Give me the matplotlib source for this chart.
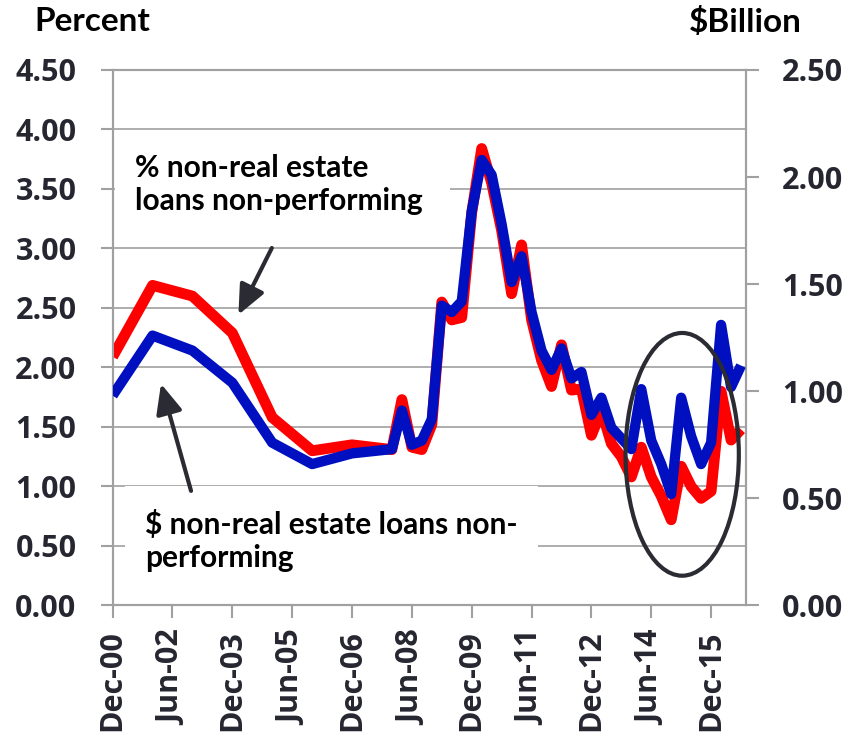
import matplotlib
matplotlib.use("Agg")
import matplotlib.pyplot as plt
from matplotlib.patches import Ellipse, Rectangle

# ---------------- data ----------------
# x positions as quarter index from Dec-2000 (annual points early, quarterly from Dec-07)
quarters = [0, 4, 8, 12, 16, 20, 24, 28, 29, 30, 31, 32, 33, 34, 35, 36, 37, 38, 39, 40,
            41, 42, 43, 44, 45, 46, 47, 48, 49, 50, 51, 52, 53, 54, 55, 56, 57, 58, 59, 60,
            61, 62, 63]
pct_nonperforming = [2.09, 2.69, 2.60, 2.29, 1.58, 1.30, 1.35, 1.31, 1.73, 1.33, 1.31, 1.52,
                     2.55, 2.40, 2.42, 3.30, 3.84, 3.55, 3.15, 2.62, 3.03, 2.40, 2.06, 1.84,
                     2.19, 1.81, 1.82, 1.43, 1.64, 1.36, 1.25, 1.08, 1.33, 1.08, 0.92, 0.72,
                     1.17, 1.00, 0.90, 0.96, 1.80, 1.39, 1.48]
bil_nonperforming = [0.98, 1.26, 1.19, 1.04, 0.76, 0.66, 0.71, 0.73, 0.91, 0.75, 0.77, 0.87,
                     1.40, 1.37, 1.42, 1.84, 2.08, 2.01, 1.78, 1.51, 1.63, 1.37, 1.19, 1.10,
                     1.20, 1.06, 1.09, 0.89, 0.97, 0.83, 0.78, 0.73, 1.01, 0.77, 0.66, 0.52,
                     0.97, 0.79, 0.66, 0.76, 1.31, 1.02, 1.12]
tick_quarters = [0, 6, 12, 18, 24, 30, 36, 42, 48, 54, 60]
tick_labels = ["Dec-00", "Jun-02", "Dec-03", "Jun-05", "Dec-06", "Jun-08",
               "Dec-09", "Jun-11", "Dec-12", "Jun-14", "Dec-15"]
left_ticks = [0, 0.5, 1.0, 1.5, 2.0, 2.5, 3.0, 3.5, 4.0, 4.5]
right_ticks = [0, 0.5, 1.0, 1.5, 2.0, 2.5]

RED = "#FF0000"
BLUE = "#0010C0"
GRID = "#A0A0A0"
DARK = "#2B2B33"
TICKC = "#262630"

fig = plt.figure(figsize=(8.52, 7.39), dpi=100)
ax = fig.add_axes([0.1322, 0.1807, 0.8756 - 0.1322, 0.9053 - 0.1807])
ax2 = ax.twinx()

ax.set_xlim(0, 63.5)
ax.set_ylim(0, 4.5)
ax2.set_ylim(0, 2.5)

# grid
ax.set_axisbelow(True)
ax.yaxis.grid(True, color=GRID, lw=1.2)
ax.xaxis.grid(False)

for a in (ax, ax2):
    for s in a.spines.values():
        s.set_color(GRID)
        s.set_linewidth(1.5)

tick_font = dict(family="Open Sans", weight="bold", size=22)
ax.set_yticks(left_ticks)
ax.set_yticklabels([f"{v:.2f}" for v in left_ticks], fontdict=tick_font, color=TICKC)
ax2.set_yticks(right_ticks)
ax2.set_yticklabels([f"{v:.2f}" for v in right_ticks], fontdict=tick_font, color=TICKC)
ax.set_xticks(tick_quarters)
ax.set_xticklabels(tick_labels, fontdict=tick_font, color=TICKC, rotation=90)
ax.tick_params(axis="y", length=9, width=1.5, color=GRID, pad=17)
ax2.tick_params(axis="y", length=9, width=1.5, color=GRID, pad=17)
ax.tick_params(axis="x", length=9, width=1.5, color=GRID, pad=9)

# white text boxes covering grid lines
ax.add_patch(Rectangle((0.25, 3.06), 33.6, 0.85, facecolor="white", edgecolor="none", zorder=1))
ax.add_patch(Rectangle((1.25, 0.20), 41.4, 0.806, facecolor="white", edgecolor="none", zorder=1))

# lines
ax.plot(quarters, pct_nonperforming, color=RED, lw=7.8, solid_joinstyle="round",
        solid_capstyle="butt", zorder=3)
ax2.plot(quarters, bil_nonperforming, color=BLUE, lw=7.4, solid_joinstyle="round",
         solid_capstyle="butt", zorder=3)

# annotations
ann_font = dict(family="Lato", weight="bold", size=21.5, color="black")
ax2.text(2.25, 3.79, "% non-real estate\nloans non-performing", transform=ax.transData,
         ha="left", va="top", linespacing=1.2, zorder=6, **ann_font)
ax2.text(3.25, 0.80, "$ non-real estate loans non-\nperforming", transform=ax.transData,
         ha="left", va="top", linespacing=1.2, zorder=6, **ann_font)

arrow_kw = dict(arrowstyle="-|>,head_length=0.9,head_width=0.4", lw=3.0, color=DARK,
                mutation_scale=20, shrinkA=0, shrinkB=0)
ax2.annotate("", xy=(12.61, 2.443), xytext=(15.96, 3.004), xycoords=ax.transData,
             textcoords=ax.transData, arrowprops=arrow_kw, zorder=7)
ax2.annotate("", xy=(4.85, 1.863), xytext=(7.86, 0.963), xycoords=ax.transData,
             textcoords=ax.transData, arrowprops=arrow_kw, zorder=7)

ax2.add_patch(Ellipse((57.1, 1.27), 11.36, 2.04, transform=ax.transData, fill=False,
                      edgecolor=DARK, lw=3.0, zorder=8))

title_font = dict(family="Lato", weight="bold", size=24, color="black")
fig.text(34 / 852, 1 - 7 / 739, "Percent", ha="left", va="top", **title_font)
fig.text(689 / 852, 1 - 7 / 739, "$Billion", ha="left", va="top", **title_font)

fig.savefig("out.png", dpi=100)
